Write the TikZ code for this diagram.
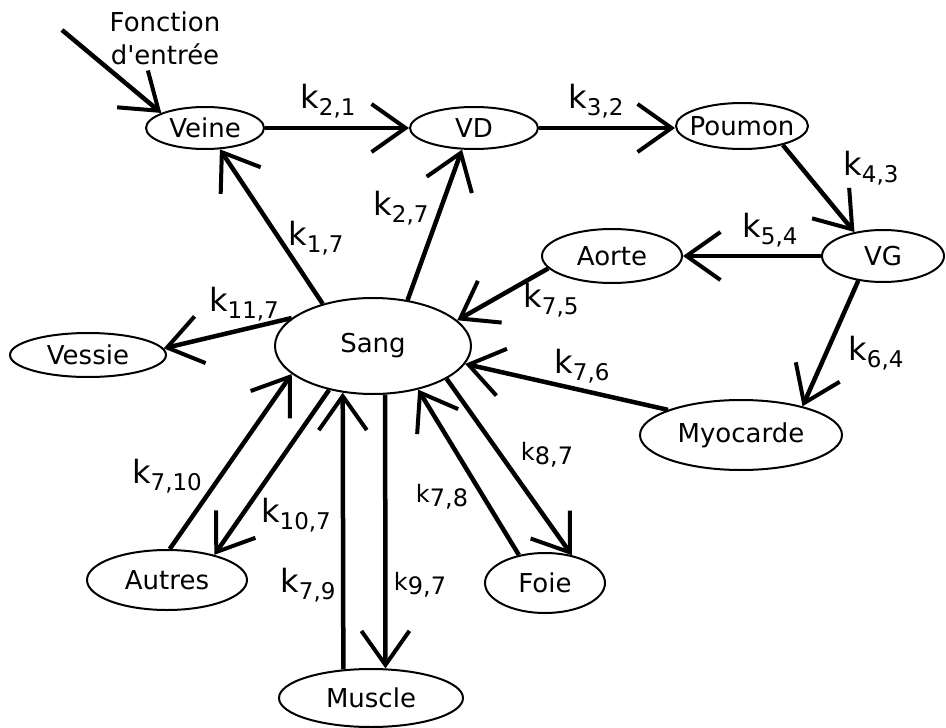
\documentclass[tikz,border=0pt]{standalone}
\usepackage{fontspec}
\setmainfont{DejaVu Sans}
\usetikzlibrary{shapes.geometric,arrows.meta}
\newcommand{\kk}[1]{{\fontsize{32}{32}\selectfont k}\raisebox{-7pt}{\fontsize{23}{23}\selectfont #1}}
\newcommand{\ks}[1]{{\fontsize{24}{24}\selectfont k}\raisebox{-4pt}{\fontsize{24}{24}\selectfont #1}}
\newcommand{\nt}[1]{\makebox[0pt]{#1}}
\begin{document}
\begin{tikzpicture}[x=1pt,y=-1pt,
  comp/.style={draw,ellipse,line width=2pt,inner sep=0pt,font=\fontsize{26}{30}\selectfont},
  flow/.style={line width=4.5pt,-{Straight Barb[length=34pt,width=48pt,line width=4pt]}},
  lab/.style={inner sep=0pt}]
\useasboundingbox (0,0) rectangle (946,728);
\node[comp,minimum width=118pt,minimum height=42pt] (veine) at (205,128) {\nt{Veine}};
\node[comp,minimum width=128pt,minimum height=42pt] (vd) at (474,128) {\nt{VD}};
\node[comp,minimum width=132pt,minimum height=46pt] (poumon) at (742,126) {\nt{Poumon}};
\node[comp,minimum width=122pt,minimum height=52pt] (vg) at (883,256) {\nt{VG}};
\node[comp,minimum width=140pt,minimum height=54pt] (aorte) at (612,256) {\nt{Aorte}};
\node[comp,minimum width=196pt,minimum height=96pt] (sang) at (373,346) {\nt{Sang}};
\node[comp,minimum width=156pt,minimum height=44pt] (vessie) at (88,355) {\nt{Vessie}};
\node[comp,minimum width=202pt,minimum height=70pt] (myo) at (741,435) {\nt{Myocarde}};
\node[comp,minimum width=160pt,minimum height=60pt] (autres) at (167,580) {\nt{Autres}};
\node[comp,minimum width=120pt,minimum height=60pt] (foie) at (545,583) {\nt{Foie}};
\node[comp,minimum width=184pt,minimum height=58pt] (muscle) at (371,698) {\nt{Muscle}};
\node[lab,align=center,font=\fontsize{26}{33}\selectfont] (fe) at (165,38) {Fonction\\d\textquotesingle entrée};
\coordinate (in) at (62,30);
% connectors
\draw[flow] (in) -- (veine.161);
\draw[flow] (veine.east) -- (vd.west);
\draw[flow] (vd.east) -- (vd.east -| poumon.west);
\draw[flow] (poumon.-25) -- (vg.140);
\draw[flow] (vg.west) -- (aorte.east);
\draw[flow] (vg.225) -- (myo.25);
\draw[flow] (aorte.191) -- (sang.17);
\draw[flow] (myo.161) -- (sang.-11);
\draw[flow] (sang.140) -- (veine.-55);
\draw[flow] (sang.53) -- (vd.241);
\draw[flow] (sang.161) -- (vessie.5);
\draw[flow] (autres.85) -- (sang.199);
\draw[flow] (sang.225) -- (autres.28);
\draw[flow] (muscle.134.3) -- (sang.237.7);
\draw[flow] (sang.284.2) -- (muscle.64);
\draw[flow] (foie.133) -- (sang.-44);
\draw[flow] (sang.-24) -- (foie.46);
% labels
\node[lab] (l21) at (328,101) {\kk{2,1}};
\node[lab] (l32) at (596,101) {\kk{3,2}};
\node[lab] (l43) at (871,168) {\kk{4,3}};
\node[lab] (l54) at (770,230) {\kk{5,4}};
\node[lab] (l64) at (876,353) {\kk{6,4}};
\node[lab] (l75) at (551,300) {\kk{7,5}};
\node[lab] (l76) at (582,366) {\kk{7,6}};
\node[lab] (l17) at (316,238) {\kk{1,7}};
\node[lab] (l27) at (401,208) {\kk{2,7}};
\node[lab] (l117) at (244,304) {\kk{11,7}};
\node[lab] (l710) at (167,476) {\kk{7,10}};
\node[lab] (l107) at (296,515) {\kk{10,7}};
\node[lab] (l79) at (308,585) {\kk{7,9}};
\node[lab] (l97) at (420,585) {\ks{9,7}};
\node[lab] (l78) at (442,497) {\ks{7,8}};
\node[lab] (l87) at (547,455) {\ks{8,7}};
\end{tikzpicture}
\end{document}
